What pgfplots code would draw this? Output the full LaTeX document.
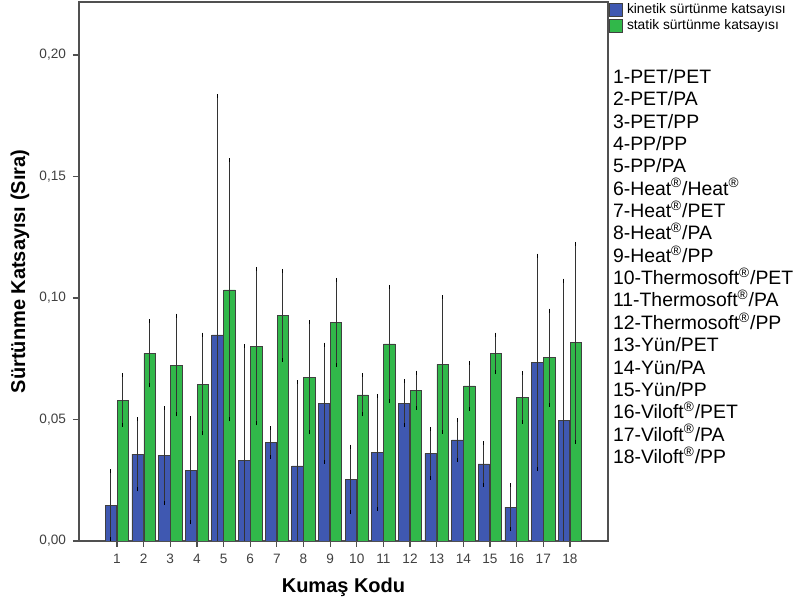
\documentclass[border=0pt]{standalone}
\usepackage{fontspec}
\setmainfont{Liberation Sans}
\usepackage{pgfplots}
\pgfplotsset{compat=1.18}
\usepackage{pgfplotstable}
\definecolor{kblue}{HTML}{3F58B1}
\definecolor{sgreen}{HTML}{31B84A}
\definecolor{framec}{HTML}{505050}
\pgfplotsset{sqlegend/.style={legend image code/.code={\draw[##1] (0pt,-3.2pt) rectangle (6.4pt,3.2pt);}}}

\pgfplotstableread{
x y e
1 0.0148 0.0140
2 0.0357 0.0145
3 0.0351 0.0195
4 0.0292 0.0215
5 0.0848 0.0983
6 0.0333 0.0469
7 0.0405 0.0059
8 0.0309 0.0344
9 0.0567 0.0241
10 0.0254 0.0134
11 0.0365 0.0232
12 0.0567 0.0090
13 0.0361 0.0100
14 0.0416 0.0081
15 0.0317 0.0086
16 0.0139 0.0090
17 0.0735 0.0439
18 0.0495 0.0576
}\kinetic

\pgfplotstableread{
x y e
1 0.0580 0.0103
2 0.0772 0.0132
3 0.0724 0.0203
4 0.0646 0.0203
5 0.1033 0.0533
6 0.0802 0.0318
7 0.0929 0.0183
8 0.0674 0.0227
9 0.0900 0.0175
10 0.0601 0.0080
11 0.0811 0.0235
12 0.0621 0.0072
13 0.0727 0.0277
14 0.0638 0.0095
15 0.0772 0.0077
16 0.0590 0.0100
17 0.0754 0.0194
18 0.0816 0.0407
}\static

\begin{document}
\begin{tikzpicture}
\useasboundingbox (0,0) rectangle (398pt,304pt);
\begin{axis}[
  at={(39.5pt,33.5pt)}, anchor=south west,
  scale only axis, width=264.5pt, height=269.5pt,
  xmin=-0.426, xmax=19.43, ymin=0, ymax=0.2218,
  axis line style={framec, line width=0.8pt},
  xtick={1,...,18}, ytick={0,0.05,0.1,0.15,0.2},
  scaled y ticks=false,
  tick align=outside, major tick length=3pt,
  tick style={framec, line width=0.6pt},
  xtick pos=bottom, ytick pos=left,
  /pgf/number format/assume math mode=true,
  ticklabel style={font=\fontsize{6.8}{7}\selectfont, text=black!75},
  yticklabel style={/pgf/number format/fixed, /pgf/number format/fixed zerofill, /pgf/number format/precision=2, /pgf/number format/use comma},
  xlabel={Kumaş Kodu}, ylabel={Sürtünme Katsayısı (Sıra)},
  label style={font=\fontsize{10}{12}\selectfont\bfseries},
  xlabel style={at={(axis description cs:0.5,0)}, yshift=-23pt, anchor=center},
  ylabel style={at={(axis description cs:-0.1115,0.5)}, anchor=center},
  legend style={at={(rel axis cs:1,1)}, anchor=north west, xshift=0.5pt, yshift=0.3pt, draw=none, fill=none, inner sep=0pt, font=\fontsize{6.9}{7.5}\selectfont, row sep=0pt, legend cell align=left, nodes={inner sep=0.8pt}, /tikz/every odd column/.append style={column sep=1.2pt}},
  error bars/y dir=both, error bars/y explicit,
  error bars/error bar style={black!80, line width=0.5pt},
  error bars/error mark options={black, line width=0.5pt, mark size=1pt},
]
\addplot[ybar, bar width=0.43, bar shift=0pt, fill=kblue, draw=black!75, line width=0.4pt, sqlegend]
  table[x expr=\thisrow{x}-0.225, y=y, y error=e] {\kinetic};
\addlegendentry{kinetik sürtünme katsayısı}
\addplot[ybar, bar width=0.43, bar shift=0pt, fill=sgreen, draw=black!75, line width=0.4pt, sqlegend]
  table[x expr=\thisrow{x}+0.225, y=y, y error=e] {\static};
\addlegendentry{statik sürtünme katsayısı}
\end{axis}
\foreach \t [count=\i] in {
  1-PET/PET, 2-PET/PA, 3-PET/PP, 4-PP/PP, 5-PP/PA,
  6-Heat\textsuperscript{®}/Heat\textsuperscript{®},
  7-Heat\textsuperscript{®}/PET, 8-Heat\textsuperscript{®}/PA, 9-Heat\textsuperscript{®}/PP,
  10-Thermosoft\textsuperscript{®}/PET, 11-Thermosoft\textsuperscript{®}/PA, 12-Thermosoft\textsuperscript{®}/PP,
  13-Yün/PET, 14-Yün/PA, 15-Yün/PP,
  16-Viloft\textsuperscript{®}/PET, 17-Viloft\textsuperscript{®}/PA, 18-Viloft\textsuperscript{®}/PP}
  \node[anchor=base west, inner sep=0pt, font=\fontsize{9.7}{10}\selectfont] at (306.3pt, {262.25pt-(\i-1)*11.175pt}) {\t};
\end{tikzpicture}
\end{document}
